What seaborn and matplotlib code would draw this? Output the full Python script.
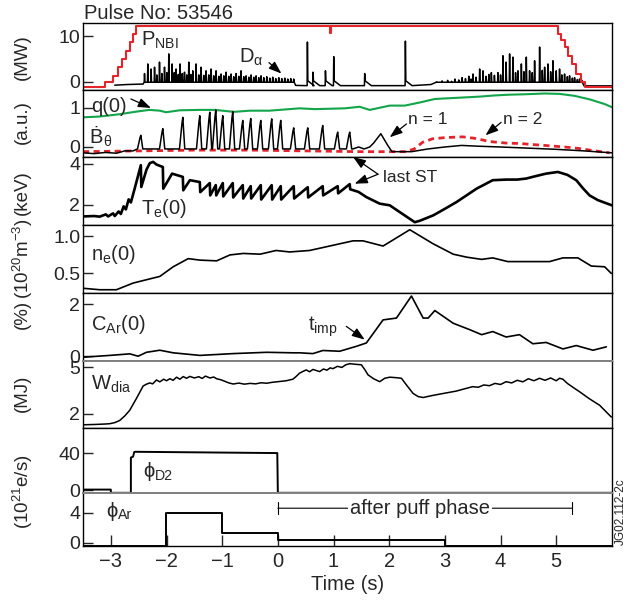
import numpy as np
import pandas as pd
import seaborn as sns
import matplotlib
matplotlib.use('Agg')
import matplotlib.pyplot as plt

# ---------------- data ----------------
# P_NBI (MW), stepped
nbi_t = [-3.5, -3.10, -2.96, -2.87, -2.80, -2.72, -2.65, -2.61, -2.55, 0.93, 0.95,
         5.03, 5.09, 5.15, 5.21, 5.29, 5.36, 5.45, 5.51, 6.0]
nbi_mw = [-1.1, 0.0, 1.3, 3.2, 5.0, 6.8, 8.7, 10.5, 12.1, 10.7, 12.1,
          10.5, 9.05, 7.6, 5.7, 3.9, 1.7, -0.15, -1.1, -1.1]

# D-alpha: ELM bursts and isolated spikes (time, height)
da_early_t = [-2.395, -2.336, -2.277, -2.215, -2.174, -2.126, -2.084, -2.036, -1.995, -1.959,
              -1.899, -1.860, -1.828, -1.788, -1.756, -1.716, -1.677, -1.636, -1.600, -1.564,
              -1.528, -1.469, -1.420, -1.379, -1.330, -1.289, -1.241, -1.199, -1.151, -1.110,
              -1.061, -1.020, -0.971, -0.930, -0.882, -0.840, -0.792, -0.750, -0.702, -0.661,
              -0.612, -0.571, -0.522, -0.481, -0.433, -0.391, -0.343, -0.302, -0.253, -0.199,
              -0.145, -0.092, -0.038, 0.016, 0.070, 0.124, 0.178, 0.232, 0.285]
da_early_h = [1.8, 3.9, 2.8, 3.2, 1.5, 4.3, 1.8, 3.2, 2.0, 6.1,
              3.9, 2.0, 2.8, 1.6, 3.9, 1.8, 2.1, 1.5, 4.3, 1.6,
              2.4, 3.9, 1.5, 3.2, 1.4, 2.4, 1.5, 2.8, 1.3, 2.4,
              1.2, 1.7, 1.3, 2.1, 1.2, 1.7, 1.1, 1.8, 1.2, 2.4,
              1.1, 1.3, 1.0, 1.5, 1.0, 1.3, 0.9, 1.3, 0.9, 1.1,
              0.8, 1.0, 0.7, 0.9, 0.7, 0.8, 0.6, 0.7, 0.6]
da_iso_t = [0.531, 0.632, 0.855, 1.004, 1.560, 2.291]
da_iso_h = [8.7, 2.1, 2.4, 5.5, 1.8, 8.9]
da_late_t = [2.85, 2.95, 3.05, 3.12, 3.18, 3.25, 3.31, 3.37, 3.43, 3.47, 3.505, 3.56, 3.625,
             3.685, 3.74, 3.79, 3.835, 3.89, 3.953, 4.00, 4.043, 4.10, 4.163, 4.222, 4.27,
             4.312, 4.374, 4.42, 4.463, 4.522, 4.57, 4.612, 4.702, 4.75, 4.792, 4.851, 4.90,
             4.941, 5.00, 5.06, 5.10, 5.15, 5.20, 5.24, 5.29, 5.33, 5.38, 5.42, 5.46]
da_late_h = [0.0, 0.2, 0.3, 0.1, 0.6, 0.4, 0.9, 0.7, 1.2, 0.6, 1.7, 1.0, 2.8,
             2.4, 1.2, 1.6, 2.0, 1.4, 2.0, 1.5, 5.7, 4.3, 6.1, 5.4, 2.0,
             2.4, 3.9, 2.2, 5.4, 2.4, 2.0, 4.6, 7.6, 2.5, 3.2, 3.9, 2.2,
             4.6, 2.4, 2.8, 1.5, 1.7, 1.1, 1.3, 0.8, 0.9, 0.5, 0.6, 0.3]

# sawtooth crash times (s) shared by Bdot and Te(0)
st_t = [-2.461, -2.066, -1.707, -1.402, -1.223, -1.115, -0.989, -0.810, -0.630, -0.487,
        -0.307, -0.110, 0.052, 0.285, 0.537, 0.806, 1.075, 1.291]
bdot_peak = [0.30, 0.47, 0.76, 0.80, 0.89, 0.95, 0.80, 0.91, 0.68, 0.73,
             0.68, 0.72, 0.68, 0.49, 0.49, 0.55, 0.38, 0.38]
bdot_pre_t = [-3.5, -3.3, -3.1, -2.9, -2.75, -2.6]
bdot_pre_v = [-0.15, -0.17, -0.14, -0.16, -0.10, -0.10]
bdot_post_t = [1.35, 1.45, 1.55, 1.65, 1.72, 1.85, 1.97, 2.05, 2.4, 2.7, 3.0, 3.3, 3.6,
               4.0, 4.5, 5.0, 5.5, 6.0]
bdot_post_v = [-0.05, 0.0, -0.05, 0.0, 0.10, 0.34, 0.05, -0.12, -0.12, -0.05, 0.0, 0.04, 0.02,
               0.0, -0.03, -0.06, -0.10, -0.15]
n2_t = [-3.5, -2.5, -1.5, -0.5, 0.5, 1.5, 2.3, 2.45, 2.6, 2.78, 3.0, 3.32, 3.55, 3.8,
        4.1, 4.34, 4.6, 4.88, 5.15, 5.42, 5.7, 5.96]
n2_v = [-0.12, -0.10, -0.08, -0.08, -0.10, -0.12, -0.12, -0.05, 0.12, 0.21, 0.24, 0.26, 0.22, 0.14,
        0.10, 0.09, 0.06, 0.03, 0.0, -0.04, -0.10, -0.15]
q0_t = [-3.5, -3.2, -2.84, -2.57, -2.31, -2.12, -2.01, -1.76, -1.40, -1.13, -0.79, -0.50,
        -0.15, 0.21, 0.39, 0.66, 0.93, 1.20, 1.47, 1.65, 2.01, 2.28, 2.55, 2.82, 3.09,
        3.36, 3.62, 3.89, 4.16, 4.43, 4.79, 5.06, 5.33, 5.60, 5.87, 6.0]
q0_v = [0.76, 0.78, 0.84, 0.90, 0.95, 0.93, 0.89, 0.94, 0.95, 0.95, 0.90, 0.93,
        0.93, 0.97, 0.99, 0.97, 0.98, 0.99, 1.03, 0.95, 1.06, 1.06, 1.14, 1.23, 1.25,
        1.27, 1.29, 1.32, 1.34, 1.35, 1.37, 1.36, 1.31, 1.22, 1.10, 1.02]

# Te(0) (keV)
te_pre_t = [-3.50, -3.30, -3.20, -3.09, -3.05, -2.96, -2.93, -2.86, -2.82, -2.77, -2.73,
            -2.68, -2.64, -2.57]
te_pre_v = [1.43, 1.45, 1.42, 1.53, 1.43, 1.58, 1.45, 1.67, 1.55, 1.92, 1.77,
            2.26, 2.11, 2.80]
te_peak = [3.92, 3.83, 3.35, 3.10, 3.05, 2.95, 3.05, 3.05, 2.95, 2.90,
           2.95, 2.95, 2.90, 2.90, 2.85, 2.90, 2.90, 3.00]
te_trough = [2.86, 2.78, 2.70, 2.61, 2.45, 2.45, 2.40, 2.35, 2.30, 2.30,
             2.25, 2.25, 2.25, 2.30, 2.35, 2.45, 2.55, 2.75]
te_round_t = [-2.36, -2.30, -2.24, -2.18, -1.90, -1.58]
te_round_v = [3.70, 4.02, 4.08, 3.95, 3.51, 3.19]
te_post_t = [1.45, 1.59, 1.83, 2.01, 2.19, 2.35, 2.46, 2.55, 2.79, 3.0, 3.21, 3.57, 3.86,
             4.10, 4.30, 4.46, 4.65, 4.82, 5.03, 5.20, 5.36, 5.48, 5.60, 5.75, 5.84, 6.0]
te_post_v = [2.62, 2.37, 2.05, 1.97, 1.64, 1.35, 1.15, 1.22, 1.48, 1.80, 2.13, 2.78, 3.19,
             3.22, 3.22, 3.27, 3.40, 3.51, 3.59, 3.45, 3.19, 2.80, 2.45, 2.22, 2.13, 1.97]

# ne(0) (1e20 m^-3)
ne_t = [-3.50, -3.20, -2.90, -2.60, -2.12, -1.88, -1.61, -1.40, -1.10, -0.86, -0.62, -0.32,
        -0.03, 0.21, 0.57, 0.99, 1.35, 1.53, 1.89, 2.37, 2.79, 3.15, 3.39, 3.66, 3.86,
        4.13, 4.88, 5.12, 5.39, 5.63, 5.87, 5.99]
ne_v = [0.30, 0.28, 0.28, 0.37, 0.46, 0.59, 0.70, 0.68, 0.67, 0.75, 0.77, 0.76,
        0.81, 0.79, 0.81, 0.88, 0.94, 0.94, 0.87, 1.09, 0.90, 0.76, 0.72, 0.69, 0.71,
        0.66, 0.66, 0.71, 0.71, 0.60, 0.59, 0.50]

# C_Ar(0) (%)
car_t = [-3.50, -3.02, -2.66, -2.51, -2.36, -2.12, -1.88, -1.40, -0.80, -0.20, 0.27, 0.39,
         0.63, 0.81, 1.11, 1.41, 1.59, 1.89, 2.13, 2.40, 2.61, 2.70, 2.82, 3.15, 3.45,
         3.66, 3.86, 4.10, 4.34, 4.58, 4.82, 5.12, 5.36, 5.66, 5.90]
car_v = [-0.04, 0.03, 0.09, 0.0, 0.15, 0.23, 0.13, 0.03, 0.10, 0.15, 0.13, 0.13,
         0.10, 0.22, 0.19, 0.38, 0.51, 1.40, 1.47, 2.32, 1.47, 1.47, 1.76, 1.27, 1.02,
         0.83, 0.95, 0.74, 0.83, 0.48, 0.53, 0.28, 0.41, 0.23, 0.36]

# W_dia (MJ)
wdia_t = [-3.5, -3.3, -3.1, -3.02, -2.93, -2.84, -2.75, -2.66, -2.54, -2.42, -2.36, -2.30,
          -2.25, -2.18, -2.12, -2.05, -2.0, -1.94, -1.88, -1.82, -1.76, -1.70, -1.64, -1.58,
          -1.50, -1.42, -1.36, -1.30, -1.22, -1.15, -1.10, -1.02, -0.95, -0.88, -0.80, -0.70,
          -0.60, -0.50, -0.40, -0.30, -0.20, -0.10, 0.05, 0.15, 0.27, 0.33, 0.39, 0.45, 0.51,
          0.57, 0.63, 0.69, 0.75, 0.82, 0.88, 0.94, 0.99, 1.07, 1.15, 1.22, 1.29, 1.40, 1.50,
          1.56, 1.62, 1.72, 1.83, 1.92, 2.01, 2.12, 2.22, 2.31, 2.43, 2.52, 2.61, 2.75, 2.91,
          3.2, 3.5, 3.6, 3.7, 3.8, 3.9, 4.0, 4.1, 4.2, 4.3, 4.4, 4.5, 4.6, 4.7, 4.8, 4.9,
          5.0, 5.06, 5.12, 5.2, 5.3, 5.42, 5.6, 5.78, 5.99]
wdia_v = [1.28, 1.30, 1.33, 1.35, 1.42, 1.56, 1.85, 2.22, 2.98, 3.78, 3.90, 3.98,
          3.92, 4.17, 4.05, 4.22, 4.12, 4.25, 4.15, 4.35, 4.22, 4.39, 4.28, 4.40,
          4.30, 4.38, 4.27, 4.42, 4.30, 4.36, 4.25, 4.18, 4.08, 3.98, 3.91, 3.97,
          3.90, 3.95, 3.92, 3.99, 3.96, 4.02, 4.08, 4.12, 4.22, 4.40, 4.61, 4.72, 4.82,
          4.70, 4.85, 4.78, 4.71, 4.88, 4.80, 4.95, 4.90, 5.05, 4.98, 5.15, 5.22, 5.18, 5.15,
          4.85, 4.50, 4.25, 4.06, 4.28, 4.35, 4.32, 4.28, 3.85, 3.30, 3.10, 3.04, 3.15, 3.26,
          3.45, 3.74, 3.70, 3.85, 3.80, 3.95, 3.88, 4.06, 3.98, 4.15, 4.05, 4.25, 4.12, 4.28,
          4.15, 4.30, 4.12, 4.28, 4.22, 3.95, 3.70, 3.41, 2.95, 2.54, 1.78]

# gas fuelling rates (1e21 e/s)
d2_t = [-3.5, -3.0, -3.0, -2.64, -2.64, -2.60, -2.58, -2.56, -0.01, 0.0, 6.0]
d2_v = [0.6, 0.6, -2.9, -2.9, 35.5, 36.5, 41.5, 41.8, 40.4, -2.9, -2.9]
ar_t = [-3.5, -2.01, -1.01, 0.0, 3.0, 6.0]
ar_v = [-0.4, 4.0, 1.28, 0.45, -0.4, -0.4]

ylims = [(-1.8, 12.9), (-0.26, 1.46), (1.0, 4.31), (0.23, 1.15),
         (-0.17, 2.42), (1.09, 5.42), (-3.0, 68.0), (-0.4, 6.6)]
yticks = [[0, 10], [0, 1], [2, 4], [0.5, 1.0], [0, 2], [2, 5], [0, 40], [0, 4]]
ytick_labels = [['0', '10'], ['0', '1'], ['2', '4'], ['0.5', '1.0'], ['0', '2'],
                ['2', '5'], ['0', '40'], ['0', '4']]
xticks = [-3, -2, -1, 0, 1, 2, 3, 4, 5]

RED = '#e4232b'
GREEN = '#12a54a'


def line(ax, t, v, **kw):
    sns.lineplot(x=np.asarray(t, float), y=np.asarray(v, float), ax=ax,
                 estimator=None, sort=False, legend=False, **kw)


def spikes(times, heights, floor, pre=0.006, post=0.008):
    t, v = [], []
    for tc, h in zip(times, heights):
        t += [tc - pre, tc, tc + post]
        v += [floor, h, floor]
    return t, v


def arrow(ax, tail, head):
    ax.annotate('', xy=head, xytext=tail, annotation_clip=False,
                arrowprops=dict(arrowstyle='-|>,head_length=0.55,head_width=0.2',
                                color='k', lw=0.9, shrinkA=0, shrinkB=0,
                                mutation_scale=14))


def sublabel(ax, x, y, main, sub, size):
    # symbol followed by a smaller, lowered subscript
    t = ax.text(x, y, main, fontsize=size, ha='left', va='baseline')
    ax.annotate(sub, xy=(1, 0), xycoords=t, xytext=(0.3, 1.0), textcoords='offset points',
                fontsize=size * 0.7, ha='left', va='baseline')


sns.set_style('ticks')
plt.rcParams['font.family'] = ['Liberation Sans', 'DejaVu Sans']
plt.rcParams['mathtext.fontset'] = 'custom'
plt.rcParams['mathtext.rm'] = 'Liberation Sans'
plt.rcParams['mathtext.it'] = 'Liberation Sans:italic'
plt.rcParams['mathtext.bf'] = 'Liberation Sans:bold'

FS = 14.5
TS = 14
fig, axes = plt.subplots(8, 1, sharex=True, figsize=(6.25, 6.01), dpi=100,
                         gridspec_kw=dict(height_ratios=[67, 67, 68, 68, 67, 67, 65, 53],
                                          hspace=0))
fig.subplots_adjust(left=0.1328, right=0.979, top=0.962, bottom=0.0915)

# ---- panel 1: NBI power and D-alpha
ax = axes[0]
dt, dv = [-2.93, -2.70, -2.42], [-0.75, -0.6, -0.5]
st, sv = spikes(da_early_t, da_early_h, -0.1)
dt += st + [0.32]
dv += sv + [-0.8]
for tc, h in zip(da_iso_t, da_iso_h):
    dt += [tc - 0.005, tc, tc + 0.008, tc + 0.12]
    dv += [-0.85, h, 0.2, -0.85]
st, sv = spikes(da_late_t, da_late_h, -0.1)
dt += [2.75] + st + [5.50, 6.0]
dv += [-0.6] + sv + [-0.9, -0.9]
line(ax, dt, dv, color='k', linewidth=1.1)
line(ax, nbi_t, nbi_mw, color=RED, linewidth=1.5, drawstyle='steps-post')
ax.text(-2.46, 7.95, r'P$_{\rm NBI}$', fontsize=FS, ha='left', va='baseline')
ax.text(-0.69, 4.26, r'D$_{\rm α}$', fontsize=FS, ha='left', va='baseline')
arrow(ax, (-0.16, 4.2), (0.064, 1.8))

# ---- panel 2: q(0), Bdot
ax = axes[1]
line(ax, q0_t, q0_v, color=GREEN, linewidth=1.5)
bt, bv = list(bdot_pre_t), list(bdot_pre_v)
for tc, h in zip(st_t, bdot_peak):
    bt += [tc - 0.06, tc - 0.015, tc, tc + 0.035]
    bv += [-0.05, 0.8 * h, h, -0.05]
bt += bdot_post_t
bv += bdot_post_v
line(ax, n2_t, n2_v, color=RED, linewidth=2.0, linestyle=(0, (2.2, 1.6)))
line(ax, bt, bv, color='k', linewidth=1.1)
ax.text(-3.35, 0.89, 'q(0)', fontsize=FS, ha='left', va='baseline')
arrow(ax, (-2.64, 1.23), (-2.28, 1.0))
sublabel(ax, -3.38, 0.10, '\u1e02', 'θ', FS)
ax.text(2.33, 0.59, 'n = 1', fontsize=12.5, ha='left', va='baseline')
arrow(ax, (2.31, 0.59), (2.01, 0.25))
ax.text(4.04, 0.59, 'n = 2', fontsize=12.5, ha='left', va='baseline')
arrow(ax, (4.01, 0.63), (3.73, 0.30))

# ---- panel 3: Te(0)
ax = axes[2]
te = pd.DataFrame({
    't': te_pre_t + st_t + [c + 0.008 for c in st_t] + te_round_t + te_post_t,
    'v': te_pre_v + te_peak + te_trough + te_round_v + te_post_v,
}).sort_values('t')
line(ax, te['t'], te['v'], color='k', linewidth=1.9)
ax.text(-2.46, 1.56, r'T$_{\rm e}$(0)', fontsize=FS, ha='left', va='baseline')
ax.text(1.88, 3.10, 'last ST', fontsize=12.5, ha='left', va='baseline')
arrow(ax, (1.80, 3.48), (1.35, 4.32))
arrow(ax, (1.80, 3.48), (1.38, 3.02))

# ---- panel 4: ne(0)
ax = axes[3]
line(ax, ne_t, ne_v, color='k', linewidth=1.2)
ax.text(-3.35, 0.68, r'n$_{\rm e}$(0)', fontsize=FS, ha='left', va='baseline')

# ---- panel 5: C_Ar(0)
ax = axes[4]
line(ax, car_t, car_v, color='k', linewidth=1.2)
ax.text(-3.35, 1.02, r'C$_{\rm Ar}$(0)', fontsize=FS, ha='left', va='baseline')
ax.text(0.54, 0.99, r't$_{\rm imp}$', fontsize=FS, ha='left', va='baseline')
arrow(ax, (1.23, 1.15), (1.56, 0.64))

# ---- panel 6: W_dia
ax = axes[5]
line(ax, wdia_t, wdia_v, color='k', linewidth=1.1)
ax.text(-3.35, 3.52, r'W$_{\rm dia}$', fontsize=FS, ha='left', va='baseline')

# ---- panel 7: D2 puff
ax = axes[6]
line(ax, d2_t, d2_v, color='k', linewidth=1.4)
sublabel(ax, -2.41, 14, '\u03d5', 'D2', FS)

# ---- panel 8: Ar puff
ax = axes[7]
line(ax, ar_t, ar_v, color='k', linewidth=1.4, drawstyle='steps-post')
sublabel(ax, -3.09, 3.47, '\u03d5', 'Ar', FS)
ax.annotate('', xy=(5.29, 4.58), xytext=(0.0, 4.58),
            arrowprops=dict(arrowstyle='|-|,widthA=0.3,widthB=0.3', color='k', lw=0.8,
                            shrinkA=0, shrinkB=0, mutation_scale=14))
ax.text(2.55, 4.58, 'after puff phase', fontsize=FS, ha='center', va='center',
        bbox=dict(facecolor='white', edgecolor='none', pad=1.5), zorder=5)

for i, ax in enumerate(axes):
    ax.set_xlim(-3.5, 6.0)
    ax.set_ylim(*ylims[i])
    ax.set_yticks(yticks[i])
    ax.set_yticklabels(ytick_labels[i])
    ax.tick_params(axis='y', direction='in', length=7, width=1, left=True, right=False,
                   labelsize=TS, pad=2)
    ax.tick_params(axis='x', bottom=False, top=False)
    ax.set_ylabel('')
    ax.set_xlabel('')
    for sp in ax.spines.values():
        sp.set_color('k')
        sp.set_linewidth(1.0)

for a, s in [(axes[4], 'bottom'), (axes[5], 'top'), (axes[6], 'bottom'), (axes[7], 'top')]:
    a.spines[s].set_color('#808080')
    a.spines[s].set_linewidth(1.4)

axes[-1].set_xticks(xticks)
axes[-1].tick_params(axis='x', bottom=True, direction='in', length=8, width=1,
                     labelsize=FS, pad=4)
axes[-1].set_xlabel('Time (s)', fontsize=FS, labelpad=3)

# y-axis units
US = 13.5
units = [('(MW)', 0.905), ('(a.u.)', 0.797), ('(keV)', 0.679),
         (r'(10$^{20}$m$^{-3}$)', 0.569), ('(%)', 0.477), ('(MJ)', 0.346),
         (r'(10$^{21}$e/s)', 0.181)]
for txt, y in units:
    fig.text(0.036, y, txt, rotation=90, fontsize=US, ha='center', va='center')

fig.text(0.134, 0.9676, 'Pulse No: 53546', fontsize=FS, ha='left', va='baseline')
fig.text(0.9928, 0.1486, 'JG02.112-2c', rotation=90, fontsize=8.5, ha='center', va='center')

fig.savefig('out.png', dpi=100)
